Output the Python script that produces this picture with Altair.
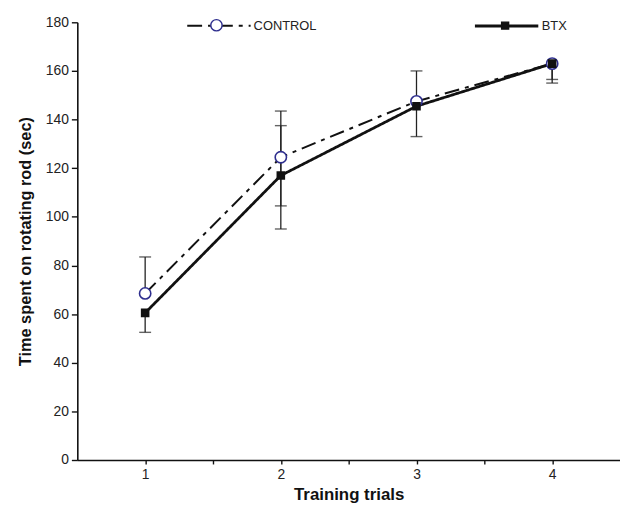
import altair as alt
import pandas as pd

# ---- data ----
trials = [1, 2, 3, 4]
series_names = ["CONTROL", "BTX"]
control_mean = [68.5, 124.5, 147.5, 163.0]
btx_mean = [60.5, 117.0, 145.5, 163.0]
control_err_lo = [68.5, 104.5, 147.5, 156.5]
control_err_hi = [83.5, 143.5, 160.0, 163.0]
btx_err_lo = [52.5, 95.0, 133.0, 155.0]
btx_err_hi = [60.5, 137.5, 145.5, 163.0]
x_ticks = [1, 1.5, 2, 2.5, 3, 3.5, 4]
y_ticks = [0, 20, 40, 60, 80, 100, 120, 140, 160, 180]

rows, bars, caps = [], [], []
for name, mean, lo, hi in [
    ("CONTROL", control_mean, control_err_lo, control_err_hi),
    ("BTX", btx_mean, btx_err_lo, btx_err_hi),
]:
    for t, m, l, h in zip(trials, mean, lo, hi):
        rows.append({"trial": t, "time": m, "series": name, "pt": "pt_" + name})
        bars.append({"trial": t, "lo": l, "hi": h})
        if l < m:
            caps.append({"trial": t, "v": l})
        if h > m:
            caps.append({"trial": t, "v": h})

df = pd.DataFrame(rows)
df_bars = pd.DataFrame(bars)
df_caps = pd.DataFrame(caps)

FONT = "Liberation Sans"

xscale = alt.Scale(domain=[0.5, 4.5], nice=False, zero=False)
yscale = alt.Scale(domain=[0, 180], nice=False)

x_enc = alt.X(
    "trial:Q",
    scale=xscale,
    axis=alt.Axis(
        values=x_ticks,
        labelExpr="datum.value % 1 == 0 ? format(datum.value, 'd') : ''",
        title="Training trials",
        titleFontSize=17,
        titleFontWeight="bold",
        titleFont=FONT,
        titlePadding=5,
        tickSize=4,
        labelFontSize=14,
        labelPadding=4,
    ),
)
y_enc = alt.Y(
    "time:Q",
    scale=yscale,
    axis=alt.Axis(
        values=y_ticks,
        title="Time spent on rotating rod (sec)",
        titleFontSize=16.5,
        titleFontWeight="bold",
        titleFont=FONT,
        titlePadding=12,
        tickSize=6,
        labelFontSize=14,
        labelPadding=3,
    ),
)

err = alt.Chart(df_bars).mark_rule(color="#222", strokeWidth=1.3).encode(
    x=alt.X("trial:Q", scale=xscale),
    y=alt.Y("lo:Q", scale=yscale),
    y2="hi:Q",
)
cap = alt.Chart(df_caps).mark_tick(
    color="#222", thickness=1.4, size=12, orient="horizontal"
).encode(
    x=alt.X("trial:Q", scale=xscale),
    y=alt.Y("v:Q", scale=yscale),
)

lines = alt.Chart(df).mark_line(color="#111").encode(
    x=x_enc,
    y=y_enc,
    strokeDash=alt.StrokeDash(
        "series:N",
        scale=alt.Scale(domain=series_names, range=[[15, 6, 4, 6], [1, 0]]),
        legend=alt.Legend(
            orient="none",
            legendX=110,
            legendY=-30,
            direction="horizontal",
            title=None,
            symbolType="stroke",
            symbolSize=4096,
            symbolStrokeWidth=2.4,
            symbolStrokeColor="#111",
            labelFont=FONT,
            labelFontSize=13,
            labelColor="#222",
            labelOffset=2,
            columnPadding=153,
        ),
    ),
    strokeWidth=alt.StrokeWidth(
        "series:N",
        scale=alt.Scale(domain=series_names, range=[2.0, 2.8]),
        legend=None,
    ),
    detail="series:N",
)

pts = alt.Chart(df).mark_point(filled=False, strokeWidth=1.6, opacity=1).encode(
    x=alt.X("trial:Q", scale=xscale),
    y=alt.Y("time:Q", scale=yscale),
    shape=alt.Shape(
        "pt:N",
        scale=alt.Scale(domain=["pt_CONTROL", "pt_BTX"], range=["circle", "square"]),
        legend=alt.Legend(
            orient="none",
            legendX=134,
            legendY=-4,
            direction="horizontal",
            title=None,
            labelExpr="''",
            labelOffset=0,
            columnPadding=275,
            symbolStrokeWidth=1.4,
        ),
    ),
    fill=alt.Fill(
        "pt:N",
        scale=alt.Scale(domain=["pt_CONTROL", "pt_BTX"], range=["white", "#111"]),
    ),
    stroke=alt.Stroke(
        "pt:N",
        scale=alt.Scale(domain=["pt_CONTROL", "pt_BTX"], range=["#2e2e8e", "#111"]),
    ),
    size=alt.Size(
        "pt:N",
        scale=alt.Scale(domain=["pt_CONTROL", "pt_BTX"], range=[130, 50]),
    ),
    order=alt.Order("pt:N", sort="descending"),
)

chart = (
    alt.layer(err, cap, lines, pts)
    .properties(
        width=548,
        height=442,
        autosize=alt.AutoSizeParams(type="none"),
        padding={"left": 70, "top": 12, "right": 0, "bottom": 43},
        background="white",
    )
    .configure_view(stroke=None)
    .configure_axis(
        grid=False,
        domainColor="#111",
        domainWidth=1.6,
        tickColor="#111",
        tickWidth=1.4,
        labelFont=FONT,
        labelColor="#222",
        titleColor="#111",
    )
)

chart.save("out.html", embed_options={"renderer": "svg", "actions": False})
